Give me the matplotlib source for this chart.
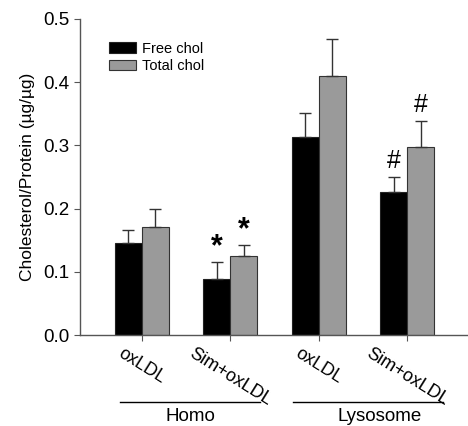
import numpy as np
import matplotlib
matplotlib.use("Agg")
import matplotlib.pyplot as plt
from matplotlib.transforms import blended_transform_factory

plt.rcParams['font.family'] = ['Liberation Sans', 'DejaVu Sans']

# data
groups = ["oxLDL", "Sim+oxLDL", "oxLDL", "Sim+oxLDL"]
free_chol = [0.145, 0.088, 0.313, 0.226]
free_err = [0.021, 0.027, 0.038, 0.024]
total_chol = [0.171, 0.125, 0.409, 0.297]
total_err = [0.028, 0.017, 0.060, 0.041]
free_marks = ["", "*", "", "#"]
total_marks = ["", "*", "", "#"]

x = np.arange(len(groups))
w = 0.305

fig = plt.figure(figsize=(4.68, 4.26), dpi=100)
ax = fig.add_axes([0.171, 0.2136, 0.829, 0.742])

ekw = dict(ecolor='#333333', elinewidth=1.0, capsize=4, capthick=1.0)
ax.bar(x - w / 2, free_chol, w, color='black', edgecolor='#222222', linewidth=0.8,
       label='Free chol', yerr=[np.zeros(4), free_err], error_kw=ekw, zorder=2)
ax.bar(x + w / 2, total_chol, w, color='#9a9a9a', edgecolor='#333333', linewidth=0.8,
       label='Total chol', yerr=[np.zeros(4), total_err], error_kw=ekw, zorder=2)

# significance marks
for i in range(len(x)):
    for off, vals, errs, marks in ((-w / 2, free_chol, free_err, free_marks),
                                   (w / 2, total_chol, total_err, total_marks)):
        m = marks[i]
        if m:
            if m == "*":
                ax.annotate(m, (x[i] + off, vals[i] + errs[i]), xytext=(0, 0),
                            textcoords='offset points', ha='center', va='bottom',
                            fontsize=22, fontweight='bold')
            else:
                ax.annotate(m, (x[i] + off, vals[i] + errs[i]), xytext=(0, 3),
                            textcoords='offset points', ha='center', va='bottom',
                            fontsize=18)

ax.set_xlim(-0.697, 3.687)
ax.set_ylim(0, 0.5)
ax.set_yticks([0.0, 0.1, 0.2, 0.3, 0.4, 0.5])
ax.set_yticklabels(["0.0", "0.1", "0.2", "0.3", "0.4", "0.5"])
ax.set_xticks(x)
ax.set_xticklabels(groups, rotation=-32, ha='center', va='top', fontsize=13)
ax.tick_params(axis='y', labelsize=13.5, direction='out', length=4, color='#555555')
ax.tick_params(axis='x', direction='out', length=4, color='#555555', pad=3)
ax.spines['top'].set_visible(False)
ax.spines['right'].set_visible(False)
for s in ('left', 'bottom'):
    ax.spines[s].set_color('#555555')
    ax.spines[s].set_linewidth(1.0)

ax.set_ylabel("Cholesterol/Protein (µg/µg)", fontsize=12.5, labelpad=6)

# group brackets under the x labels
tr = blended_transform_factory(ax.transData, ax.transAxes)
ax.plot([-0.245, 1.337], [-0.212, -0.212], color='black', lw=1.0,
        transform=tr, clip_on=False)
ax.plot([1.71, 3.40], [-0.212, -0.212], color='black', lw=1.0,
        transform=tr, clip_on=False)
ax.text(0.546, -0.232, "Homo", transform=tr, ha='center', va='top', fontsize=13.5)
ax.text(2.69, -0.232, "Lysosome", transform=tr, ha='center', va='top', fontsize=13.5)

ax.legend(loc='upper left', bbox_to_anchor=(0.04, 0.97), frameon=False,
          fontsize=10.5, handlelength=1.9, handleheight=0.7, handletextpad=0.4,
          labelspacing=0.25)

fig.savefig("out.png", dpi=100)
